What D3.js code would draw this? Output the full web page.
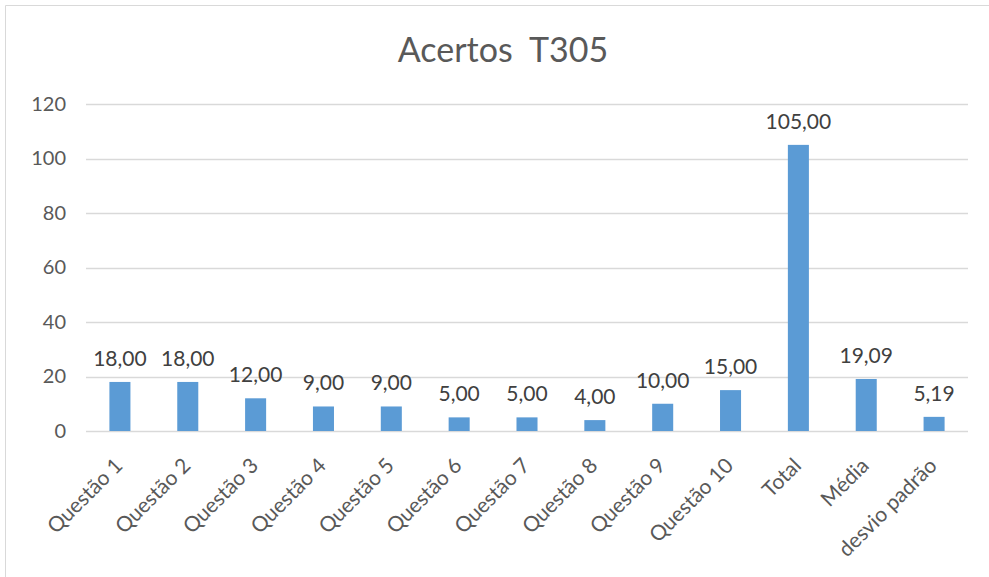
<!DOCTYPE html>
<html>
<head>
<meta charset="utf-8">
<script src="https://cdn.jsdelivr.net/npm/d3@7"></script>
<style>
  html, body { margin: 0; padding: 0; background: #fff; }
  svg { display: block; font-family: Lato, "Open Sans", sans-serif; }
</style>
</head>
<body>
<svg id="chart" width="989" height="577"></svg>
<script>
// Acertos por questão — turma T305
const categories = ["Questão 1", "Questão 2", "Questão 3", "Questão 4", "Questão 5",
  "Questão 6", "Questão 7", "Questão 8", "Questão 9", "Questão 10",
  "Total", "Média", "desvio padrão"];
const values = [18, 18, 12, 9, 9, 5, 5, 4, 10, 15, 105, 19.09, 5.19];
const yTicks = [0, 20, 40, 60, 80, 100, 120];
const chartTitle = "Acertos  T305";

const svg = d3.select("#chart");
const plot = { left: 86, right: 968, top: 104, bottom: 431 };

// chart frame
svg.append("path")
  .attr("d", "M5.5,577 V5.5 H989")
  .attr("fill", "none")
  .attr("stroke", "#d9d9d9")
  .attr("stroke-width", 1);

const x = d3.scaleBand()
  .domain(categories)
  .range([plot.left, plot.right])
  .paddingInner(0.69)
  .paddingOuter(0.345);

const y = d3.scaleLinear()
  .domain([0, 120])
  .range([plot.bottom, plot.top]);

// gridlines
svg.append("g")
  .selectAll("line")
  .data(yTicks)
  .join("line")
  .attr("x1", plot.left)
  .attr("x2", plot.right)
  .attr("y1", d => Math.round(y(d)) + 0.5)
  .attr("y2", d => Math.round(y(d)) + 0.5)
  .attr("stroke", "#d9d9d9")
  .attr("stroke-width", 1.3);

// y axis labels
const yAxis = d3.axisLeft(y).tickValues(yTicks).tickSize(0).tickPadding(20);
const gy = svg.append("g")
  .attr("transform", `translate(${plot.left},0)`)
  .call(yAxis);
gy.select(".domain").remove();
gy.selectAll("text")
  .attr("font-family", "Lato, sans-serif")
  .attr("font-size", 20)
  .attr("fill", "#595959");

// bars
svg.append("g")
  .selectAll("rect")
  .data(values)
  .join("rect")
  .attr("x", (d, i) => x(categories[i]))
  .attr("width", x.bandwidth())
  .attr("y", d => y(d))
  .attr("height", d => y(0) - y(d))
  .attr("fill", "#5b9bd5");

// value labels
const fmt = v => d3.format(".2f")(v).replace(".", ",");
svg.append("g")
  .selectAll("text")
  .data(values)
  .join("text")
  .attr("x", (d, i) => x(categories[i]) + x.bandwidth() / 2)
  .attr("y", d => y(d) - 16)
  .attr("text-anchor", "middle")
  .attr("font-size", 21)
  .attr("fill", "#404040")
  .text(fmt);

// category labels
const xAxis = d3.axisBottom(x).tickSize(0).tickPadding(0);
const gx = svg.append("g")
  .attr("transform", `translate(0,${plot.bottom})`)
  .call(xAxis);
gx.select(".domain").remove();
gx.selectAll("text")
  .attr("font-family", "Lato, sans-serif")
  .attr("font-size", 21)
  .attr("fill", "#595959")
  .attr("text-anchor", "end")
  .attr("dy", null)
  .attr("y", 0)
  .attr("transform", "translate(4,36) rotate(-45)");

// title
svg.append("text")
  .attr("x", 503)
  .attr("y", 62)
  .attr("text-anchor", "middle")
  .attr("font-size", 34)
  .attr("fill", "#595959")
  .style("white-space", "pre")
  .text(chartTitle);
</script>
</body>
</html>
